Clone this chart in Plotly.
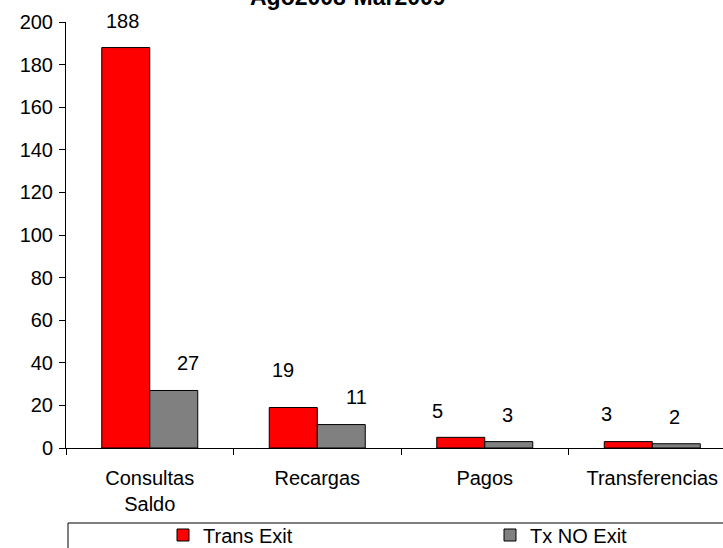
import plotly.graph_objects as go

# Transactions by type, Aug 2008 - Mar 2009
categories = ["Consultas<br>Saldo", "Recargas", "Pagos", "Transferencias"]
trans_exit = [188, 19, 5, 3]
tx_no_exit = [27, 11, 3, 2]
y_ticks = list(range(0, 201, 20))
title_text = "Ago2008-Mar2009"

FONT = "Liberation Sans, Arial, sans-serif"
RED = "#FF0000"
GREY = "#808080"

# pixel geometry of the plot area
L, T, B = 66, 22, 100
W, H = 723, 548
plot_w = W - L
plot_h = H - T - B
cat_px = 167.5                       # width of one category slot
bar_px = 48                          # width of one bar


def px_x(px):
    """page pixel -> paper x"""
    return (px - L) / plot_w


def px_y(py):
    """page pixel -> paper y"""
    return (H - B - py) / plot_h


fig = go.Figure()
fig.add_trace(go.Bar(
    name="Trans Exit", x=categories, y=trans_exit,
    marker=dict(color=RED, line=dict(color="black", width=1)),
    hoverinfo="x+y", legend="legend",
))
fig.add_trace(go.Bar(
    name="Tx NO Exit", x=categories, y=tx_no_exit,
    marker=dict(color=GREY, line=dict(color="black", width=1)),
    hoverinfo="x+y", legend="legend2",
))

# value labels above the bars (pixel nudges per label)
red_nudge = [(-3, 27), (-10, 38), (-23, 26), (-22, 28)]
grey_nudge = [(14, 27), (15, 28), (-1, 27), (-2, 27)]
annotations = []
for i in range(len(categories)):
    for vals, nudge, side in ((trans_exit, red_nudge, -1), (tx_no_exit, grey_nudge, 1)):
        dx, dy = nudge[i]
        annotations.append(dict(
            x=i, y=vals[i], xref="x", yref="y",
            text=str(vals[i]), showarrow=False,
            xanchor="center", yanchor="middle",
            xshift=side * bar_px / 2 + dx, yshift=dy,
            font=dict(family=FONT, size=20, color="black"),
        ))

# title sits partly above the top edge of the page
annotations.append(dict(
    x=px_x(348), y=px_y(-3), xref="paper", yref="paper",
    text="<b>" + title_text + "</b>", showarrow=False,
    xanchor="center", yanchor="middle",
    font=dict(family=FONT, size=23, color="black"),
))

# legend frame running off the right and bottom edges
shapes = [dict(
    type="rect", xref="paper", yref="paper",
    x0=px_x(68), x1=px_x(760),
    y0=px_y(523), y1=px_y(580),
    line=dict(color="black", width=1), fillcolor="rgba(0,0,0,0)",
)]

legend_common = dict(
    orientation="h", xanchor="left", yanchor="middle",
    font=dict(family=FONT, size=20, color="black"),
    bgcolor="rgba(0,0,0,0)", borderwidth=0,
)

fig.update_layout(
    width=W, height=H,
    margin=dict(l=L, r=0, t=T, b=B, pad=0, autoexpand=False),
    paper_bgcolor="white", plot_bgcolor="white",
    font=dict(family=FONT, size=20, color="black"),
    barmode="group",
    bargap=1 - 2 * bar_px / cat_px,
    bargroupgap=0,
    showlegend=True,
    legend=dict(x=px_x(163), y=px_y(535), **legend_common),
    legend2=dict(x=px_x(490), y=px_y(535), **legend_common),
    xaxis=dict(
        type="category",
        range=[-0.5, -0.5 + plot_w / cat_px],
        showline=True, linecolor="black", linewidth=1,
        ticks="outside", tickson="boundaries", ticklen=6,
        tickcolor="black", tickwidth=1,
        showgrid=False, zeroline=False,
        tickfont=dict(family=FONT, size=20, color="black"),
        ticklabelstandoff=12,
        automargin=False,
        fixedrange=True,
    ),
    yaxis=dict(
        range=[0, 200],
        tickvals=y_ticks,
        showline=True, linecolor="black", linewidth=1,
        ticks="outside", ticklen=6, tickcolor="black", tickwidth=1,
        showgrid=False, zeroline=False,
        tickfont=dict(family=FONT, size=20, color="black"),
        ticklabelstandoff=2,
        automargin=False,
        fixedrange=True,
    ),
    annotations=annotations,
    shapes=shapes,
)

fig.write_html("out.html")
